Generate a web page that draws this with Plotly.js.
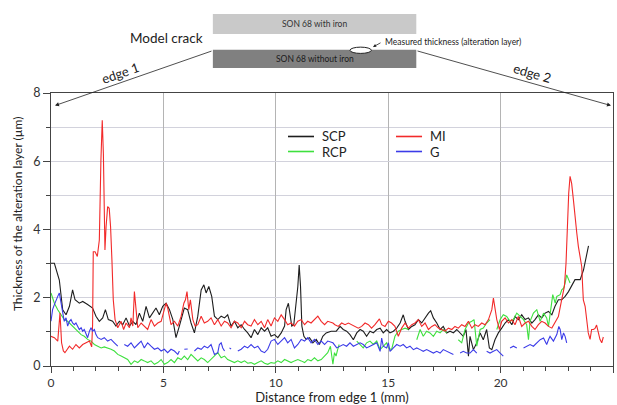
<!DOCTYPE html>
<html>
<head>
<meta charset="utf-8">
<script src="https://cdn.plot.ly/plotly-3.0.1.min.js"></script>
<style>html,body{margin:0;padding:0;background:#fff;}#chart{width:617px;height:405px;}</style>
</head>
<body>
<div id="chart"></div>
<script>
// ---- data ----
const scpX = [0,0.15,0.37,0.52,0.67,0.82,0.96,1.07,1.26,1.41,1.63,1.85,2.00,2.15,2.30,2.42,2.55,2.74,2.89,3.04,3.19,3.34,3.49,3.64,3.78,3.93,4.08,4.23,4.38,4.53,4.67,4.82,4.97,5.12,5.27,5.42,5.56,5.71,5.86,5.93,6.08,6.23,6.38,6.53,6.68,6.80,6.90,7.02,7.15,7.27,7.42,7.57,7.72,7.86,8.01,8.16,8.31,8.46,8.61,8.75,8.90,9.05,9.20,9.35,9.50,9.64,9.79,9.94,10.09,10.24,10.39,10.46,10.56,10.65,10.71,10.80,10.88,10.98,11.04,11.10,11.16,11.25,11.35,11.50,11.65,11.80,11.94,12.09,12.24,12.46,12.69,12.86,13.00,13.15,13.30,13.45,13.60,13.75,13.89,14.04,14.19,14.34,14.49,14.64,14.78,14.93,15.08,15.23,15.38,15.53,15.67,15.75,15.90,16.05,16.19,16.34,16.49,16.64,16.79,16.89,17.01,17.16,17.31,17.45,17.60,17.75,17.90,18.05,18.20,18.34,18.46,18.57,18.64,18.79,18.94,19.09,19.23,19.38,19.50,19.61,19.75,19.90,20.05,20.20,20.35,20.50,20.64,20.79,20.94,21.09,21.24,21.39,21.53,21.68,21.83,21.98,22.13,22.28,22.42,22.57,22.72,22.87,23.02,23.17,23.31,23.54,23.69,23.91];
const scpY = [3.01,3.01,2.52,1.65,1.50,1.75,2.23,1.94,1.84,1.89,1.80,1.70,1.46,1.31,1.41,1.65,1.36,1.31,1.17,1.31,1.21,1.41,1.17,1.31,1.21,1.55,1.31,1.75,1.41,1.55,1.70,1.50,1.75,1.84,1.65,1.36,0.83,1.17,1.55,1.70,1.65,1.26,0.97,1.46,2.23,2.38,2.14,2.33,2.04,1.46,1.36,1.46,1.41,1.50,1.17,1.31,1.12,1.21,1.07,0.97,0.83,1.07,0.92,1.12,1.02,1.12,0.87,0.92,0.83,0.97,1.17,1.65,1.84,1.46,1.17,1.21,1.65,2.33,2.96,2.33,1.17,0.87,0.78,0.83,0.68,0.78,0.63,0.87,0.97,1.02,1.02,1.16,1.07,1.02,0.92,0.77,0.97,1.07,1.02,0.87,1.02,0.97,1.07,1.11,0.97,1.07,0.97,1.02,1.11,1.26,1.50,1.31,1.07,1.16,1.21,1.36,1.26,1.41,1.55,1.62,1.41,1.26,1.07,1.16,0.97,1.02,0.97,1.07,0.97,0.87,1.07,0.29,0.87,0.48,0.68,0.97,0.77,1.07,0.53,0.48,0.77,0.97,1.11,1.26,1.36,1.21,1.45,1.36,1.50,1.36,1.41,1.26,1.36,1.50,1.41,1.55,1.60,1.50,1.75,1.94,1.94,2.04,2.18,2.38,2.53,2.53,2.82,3.52];

const rcpX = [0,0.15,0.30,0.45,0.59,0.74,0.89,1.04,1.19,1.34,1.48,1.63,1.78,1.93,2.08,2.23,2.37,2.52,2.67,2.82,2.97,3.12,3.26,3.41,3.56,3.71,3.86,4.01,4.15,4.30,4.45,4.60,4.75,4.90,5.04,5.19,5.34,5.49,5.64,5.79,5.93,6.08,6.23,6.38,6.53,6.68,6.82,6.97,7.12,7.27,7.42,7.57,7.72,7.86,8.01,8.16,8.31,8.46,8.61,8.75,8.90,9.05,9.20,9.35,9.50,9.64,9.79,9.94,10.09,10.24,10.39,10.53,10.68,10.83,10.98,11.13,11.28,11.42,11.57,11.72,11.87,12.02,12.17,12.31,12.43,12.54,12.61,12.68,12.75,12.82,12.86,13.00,13.30,13.60,13.75,13.89,14.04,14.19,14.34,14.49,14.64,14.78,14.93,15.01,15.15,15.30,15.45,15.60,15.75,15.90,16.10,16.27,16.42,16.56,16.71,16.86,17.01,17.16,17.31,17.45,17.60,17.85,18.12,18.27,18.42,18.57,18.72,18.82,18.94,19.09,19.23,19.38,19.53,19.68,19.83,19.98,20.12,20.27,20.42,20.57,20.72,20.87,21.02,21.16,21.24,21.31,21.46,21.61,21.76,21.91,22.05,22.13,22.23,22.32,22.43,22.50,22.65,22.72,22.80,22.87,22.94,23.02,23.09];
const rcpY = [2.14,1.84,1.65,1.50,1.36,1.31,1.21,1.12,1.02,0.92,0.87,0.78,0.73,0.63,0.58,0.53,0.56,0.53,0.49,0.44,0.34,0.29,0.24,0.19,0.05,0.15,0.10,0.19,0.15,0.10,0.15,0.05,0.10,0.19,0.05,0.10,0.19,0.10,0.24,0.19,0.29,0.19,0.34,0.24,0.15,0.24,0.19,0.10,0.19,0.29,0.39,0.24,0.29,0.19,0.15,0.10,0.15,0.10,0.15,0.08,0.10,0.05,0.10,0.15,0.08,0.05,0.10,0.08,0.15,0.10,0.19,0.15,0.10,0.15,0.19,0.15,0.10,0.19,0.15,0.24,0.15,0.19,0.29,0.39,0.58,0.05,0.39,0.29,0.48,0.63,null,0.43,null,0.73,0.63,0.53,0.68,0.73,0.63,0.73,0.48,0.58,0.68,0.53,0.48,0.87,1.02,1.07,1.11,1.07,null,0.77,1.07,0.87,1.02,0.97,0.87,1.02,0.97,1.07,0.97,null,0.77,0.68,1.07,1.26,1.31,1.36,0.58,1.07,1.11,1.26,1.36,null,1.07,1.36,1.50,1.45,1.31,1.36,1.55,1.45,1.36,1.21,0.77,1.31,1.55,1.65,1.31,1.55,1.41,1.16,1.65,2.09,1.84,2.04,2.09,2.23,2.28,2.43,2.67,2.53,2.43];

const miX = [0,0.15,0.30,0.40,0.47,0.55,0.62,0.74,0.82,0.96,1.11,1.26,1.41,1.56,1.71,1.81,1.85,1.88,1.96,2.06,2.15,2.22,2.28,2.33,2.40,2.45,2.52,2.59,2.65,2.71,2.77,2.85,2.97,3.12,3.23,3.34,3.49,3.56,3.64,3.71,3.78,3.86,4.01,4.15,4.30,4.45,4.60,4.75,4.90,5.04,5.12,5.19,5.34,5.49,5.64,5.79,5.91,5.98,6.05,6.13,6.20,6.31,6.41,6.53,6.68,6.82,6.97,7.12,7.27,7.42,7.57,7.72,7.86,8.01,8.16,8.31,8.46,8.61,8.75,8.90,9.05,9.20,9.35,9.50,9.64,9.79,9.94,10.09,10.24,10.39,10.53,10.68,10.83,10.98,11.13,11.28,11.42,11.57,11.72,11.87,12.02,12.17,12.31,12.54,12.63,12.78,12.93,13.08,13.23,13.37,13.52,13.67,13.82,13.97,14.12,14.26,14.41,14.61,14.71,14.86,15.01,15.15,15.30,15.45,15.60,15.75,15.90,16.05,16.19,16.34,16.49,16.64,16.79,16.94,17.08,17.23,17.38,17.53,17.68,17.83,17.97,18.12,18.27,18.42,18.57,18.72,18.86,19.01,19.16,19.31,19.46,19.61,19.68,19.75,19.83,19.95,20.05,20.20,20.35,20.50,20.64,20.79,20.94,21.09,21.24,21.39,21.53,21.68,21.83,21.98,22.13,22.28,22.42,22.57,22.72,22.84,22.91,22.97,23.03,23.09,23.16,23.24,23.31,23.39,23.46,23.53,23.61,23.65,23.68,23.76,23.83,23.90,23.98,24.05,24.13,24.20,24.27,24.35,24.42,24.50,24.57];
const miY = [0.87,0.83,0.73,1.55,0.68,0.44,0.39,0.49,0.58,0.49,0.63,0.53,0.63,0.68,0.73,0.56,1.20,3.35,3.35,3.21,3.69,6.03,7.20,6.22,3.40,4.08,4.67,4.62,4.08,3.11,1.94,1.36,1.12,1.31,1.07,1.26,1.12,1.41,1.17,2.18,1.65,1.12,1.26,1.17,1.07,1.36,1.17,1.26,1.31,1.65,1.84,1.70,1.21,1.31,1.17,1.46,1.84,1.94,2.18,1.65,1.94,1.36,1.17,1.21,1.46,1.26,1.31,1.41,1.21,1.36,1.17,1.31,1.26,1.12,1.31,1.26,1.12,1.31,1.21,1.17,1.36,1.21,1.31,1.12,1.36,1.17,1.41,1.31,1.50,1.36,1.21,1.26,1.17,1.31,1.36,1.21,1.31,1.26,1.36,1.46,1.31,1.21,1.31,1.26,1.21,1.16,1.26,1.21,1.26,1.21,1.16,1.11,1.16,1.26,1.21,1.11,1.21,1.38,1.21,1.16,1.31,1.26,1.16,0.87,1.11,1.26,1.11,1.21,1.26,1.36,1.16,1.26,1.07,1.16,1.21,1.11,1.07,1.02,1.11,1.07,1.16,1.11,1.21,1.16,1.31,1.11,1.21,1.16,1.26,1.21,1.36,1.65,1.99,1.75,1.36,1.07,1.31,1.41,1.26,1.36,1.21,1.45,1.16,1.26,1.31,1.16,1.07,1.21,1.31,1.26,1.16,1.11,1.26,1.45,1.95,2.34,3.01,4.38,5.06,5.56,5.35,4.86,4.28,3.89,3.50,3.20,2.91,2.33,1.94,1.75,1.36,0.97,0.78,1.07,1.07,1.10,1.20,0.97,0.78,0.68,0.85];

const gX = [0,0.07,0.15,0.22,0.30,0.37,0.45,0.52,0.59,0.67,0.74,0.82,0.89,0.96,1.04,1.11,1.19,1.26,1.34,1.41,1.48,1.56,1.63,1.71,1.78,1.85,1.93,2.00,2.08,2.23,2.37,2.52,2.67,2.82,2.97,3.10,3.26,3.41,3.56,3.71,3.86,4.01,4.15,4.30,4.45,4.60,4.75,4.90,5.04,5.19,5.34,5.49,5.64,5.71,5.82,5.93,6.08,6.22,6.38,6.53,6.68,6.82,6.97,7.12,7.27,7.42,7.49,7.57,7.64,7.72,7.83,7.94,8.01,8.15,8.31,8.46,8.61,8.75,8.90,9.05,9.20,9.35,9.50,9.64,9.79,9.94,10.09,10.24,10.39,10.53,10.68,10.83,10.98,11.13,11.28,11.42,11.57,11.72,11.87,12.02,12.17,12.31,12.54,12.71,12.86,13.00,13.15,13.30,13.45,13.60,13.75,13.89,14.04,14.19,14.34,14.49,14.64,14.71,14.78,14.93,15.01,15.08,15.23,15.38,15.53,15.67,15.82,15.97,16.12,16.27,16.42,16.56,16.71,16.86,17.01,17.16,17.31,17.45,17.60,17.75,17.90,18.05,18.20,18.34,18.49,18.64,18.79,18.94,19.15,19.38,19.53,19.68,19.83,19.98,20.05,20.12,20.27,20.42,20.57,20.72,20.87,21.02,21.16,21.31,21.46,21.61,21.76,21.91,22.05,22.13,22.20,22.35,22.50,22.59,22.65,22.72,22.80,22.87,22.94];
const gY = [1.31,1.65,1.80,1.89,2.04,2.14,1.84,1.46,1.31,1.41,1.17,1.31,1.36,1.26,1.21,1.26,1.17,1.07,1.12,1.02,1.07,0.92,0.83,1.02,1.12,1.02,1.07,0.92,0.83,0.78,0.83,0.73,0.78,0.68,0.58,null,0.63,0.58,0.68,0.53,0.63,0.73,0.53,0.68,0.58,0.49,0.53,0.44,0.49,0.39,0.49,0.44,0.34,0.44,null,0.49,0.50,null,0.44,0.53,0.49,0.58,0.53,0.63,0.34,0.39,0.63,0.68,0.53,0.44,null,0.53,0.50,null,0.44,0.49,0.58,0.53,0.63,0.53,0.58,0.44,0.39,0.49,0.73,0.78,0.63,0.73,0.83,0.68,0.78,0.53,0.63,0.78,0.73,0.83,0.68,0.78,0.63,0.73,0.63,0.73,0.68,0.53,0.58,0.63,0.58,0.68,0.58,0.63,0.68,0.63,0.53,0.58,0.63,0.68,0.43,0.82,0.58,0.53,0.68,0.43,0.53,0.63,0.58,0.63,0.53,0.58,0.48,0.53,0.48,0.43,0.48,0.43,0.38,0.43,0.38,0.48,0.43,0.38,0.34,null,0.38,0.43,0.38,0.38,0.48,0.38,null,0.43,0.38,0.43,0.48,0.38,0.34,0.29,null,0.53,0.58,0.53,null,0.53,0.58,0.63,0.58,0.68,0.77,0.82,0.63,0.77,0.87,0.73,0.92,1.16,1.07,0.77,0.97,0.87,0.68];

const seriesNames = ['SCP','RCP','MI','G'];
const seriesColors = ['#1e1e1e','#3ee03e','#f22a2a','#3c3ce8'];
const xTickVals = [0,5,10,15,20,25];
const yTickVals = [0,2,4,6,8];

// ---- chart ----
const FONT = 'Lato, "Open Sans", sans-serif';
function tr(x, y, i){
  return {x:x, y:y, name:seriesNames[i], type:'scatter', mode:'lines', showlegend:false,
    line:{color:seriesColors[i], width:1.1}, connectgaps:false, hoverinfo:'skip'};
}
const data = [
  tr(scpX, scpY, 0),
  tr(rcpX, rcpY, 1),
  tr(miX, miY, 2),
  tr(gX, gY, 3)
];
function txt(x, y, text, size, extra){
  return Object.assign({xref:'paper', yref:'paper', x:x, y:y, text:text, showarrow:false,
    xanchor:'center', yanchor:'middle', font:{family:FONT, size:size, color:'#222'}}, extra || {});
}
function arrow(x, y, ax, ay, size){
  return {xref:'paper', yref:'paper', x:x, y:y, ax:ax, ay:ay, text:'', showarrow:true,
    arrowhead:2, arrowsize:size, arrowwidth:0.8, arrowcolor:'#222', standoff:0};
}
// legend block (2 x 2), keyed by series index
const legendCols = [0.4217, 0.4217, 0.6139, 0.6139];
const legendRows = [0.8407, 0.7857, 0.8407, 0.7857];
const legendShapes = seriesNames.map((n, i) => ({type:'line', xref:'paper', yref:'paper',
  x0:legendCols[i], x1:legendCols[i] + 0.0463, y0:legendRows[i], y1:legendRows[i],
  line:{color:seriesColors[i], width:1.6}}));
const legendTexts = seriesNames.map((n, i) => txt(legendCols[i] + 0.057, legendRows[i], n, 13, {xanchor:'left'}));

const layout = {
  width:617, height:405,
  margin:{l:51, r:4, t:93, b:39, pad:0},
  paper_bgcolor:'#fff', plot_bgcolor:'#fff',
  font:{family:FONT, color:'#333', size:12},
  showlegend:false,
  xaxis:{range:[0,25], tickvals:xTickVals, ticks:'outside', ticklen:6, tickwidth:1, tickcolor:'#444',
    showline:true, linecolor:'#444', linewidth:1, mirror:true, zeroline:false,
    showgrid:true, gridcolor:'#b4b4b4', gridwidth:1,
    minor:{dtick:1, ticks:'outside', ticklen:4, tickcolor:'#444', showgrid:false},
    tickfont:{family:FONT, size:12, color:'#333'},
    title:{text:'Distance from edge 1 (mm)', font:{family:FONT, size:13, color:'#222'}, standoff:6}},
  yaxis:{range:[0,8], tickvals:yTickVals, ticks:'outside', ticklen:7, tickwidth:1, tickcolor:'#444',
    showline:true, linecolor:'#444', linewidth:1, mirror:true, zeroline:false,
    showgrid:true, gridcolor:'#d2d2dc', gridwidth:1.2,
    minor:{dtick:1, ticks:'outside', ticklen:4, tickcolor:'#444', showgrid:true, gridcolor:'#d2d2dc', gridwidth:1.2},
    tickfont:{family:FONT, size:12.5, color:'#333'}},
  shapes:[
    {type:'rect', xref:'paper', yref:'paper', x0:0.288, x1:0.650, y0:1.216, y1:1.289, fillcolor:'#c9c9c9', line:{width:0}},
    {type:'rect', xref:'paper', yref:'paper', x0:0.288, x1:0.650, y0:1.092, y1:1.158, fillcolor:'#808080', line:{width:0}},
    {type:'circle', xref:'paper', yref:'paper', x0:0.532, x1:0.570, y0:1.145, y1:1.168, fillcolor:'#fff', line:{color:'#222', width:1}}
  ].concat(legendShapes),
  annotations:[
    txt(0.469, 1.253, 'SON 68 with iron', 8.5, {font:{family:FONT, size:8.5, color:'#333'}}),
    txt(0.469, 1.123, 'SON 68 without iron', 8.5, {font:{family:FONT, size:8.5, color:'#1a1a1a'}}),
    txt(0.274, 1.201, 'Model crack', 13.5, {xanchor:'right'}),
    txt(0.591, 1.187, 'Measured thickness (alteration layer)', 8.5, {xanchor:'left'}),
    arrow(0.573, 1.1685, 9, -5, 0.8),
    arrow(0.0071, 0.954, 158, -55, 1),
    arrow(0.9964, 0.954, -195, -55, 1),
    txt(0.1228, 1.073, 'edge 1', 13, {textangle:-19}),
    txt(0.8559, 1.073, 'edge 2', 13, {textangle:16}),
    txt(-0.0605, 0.560, 'Thickness of the alteration layer (µm)', 12, {textangle:-90})
  ].concat(legendTexts)
};
Plotly.newPlot('chart', data, layout, {staticPlot:true, displayModeBar:false});
</script>
</body>
</html>
